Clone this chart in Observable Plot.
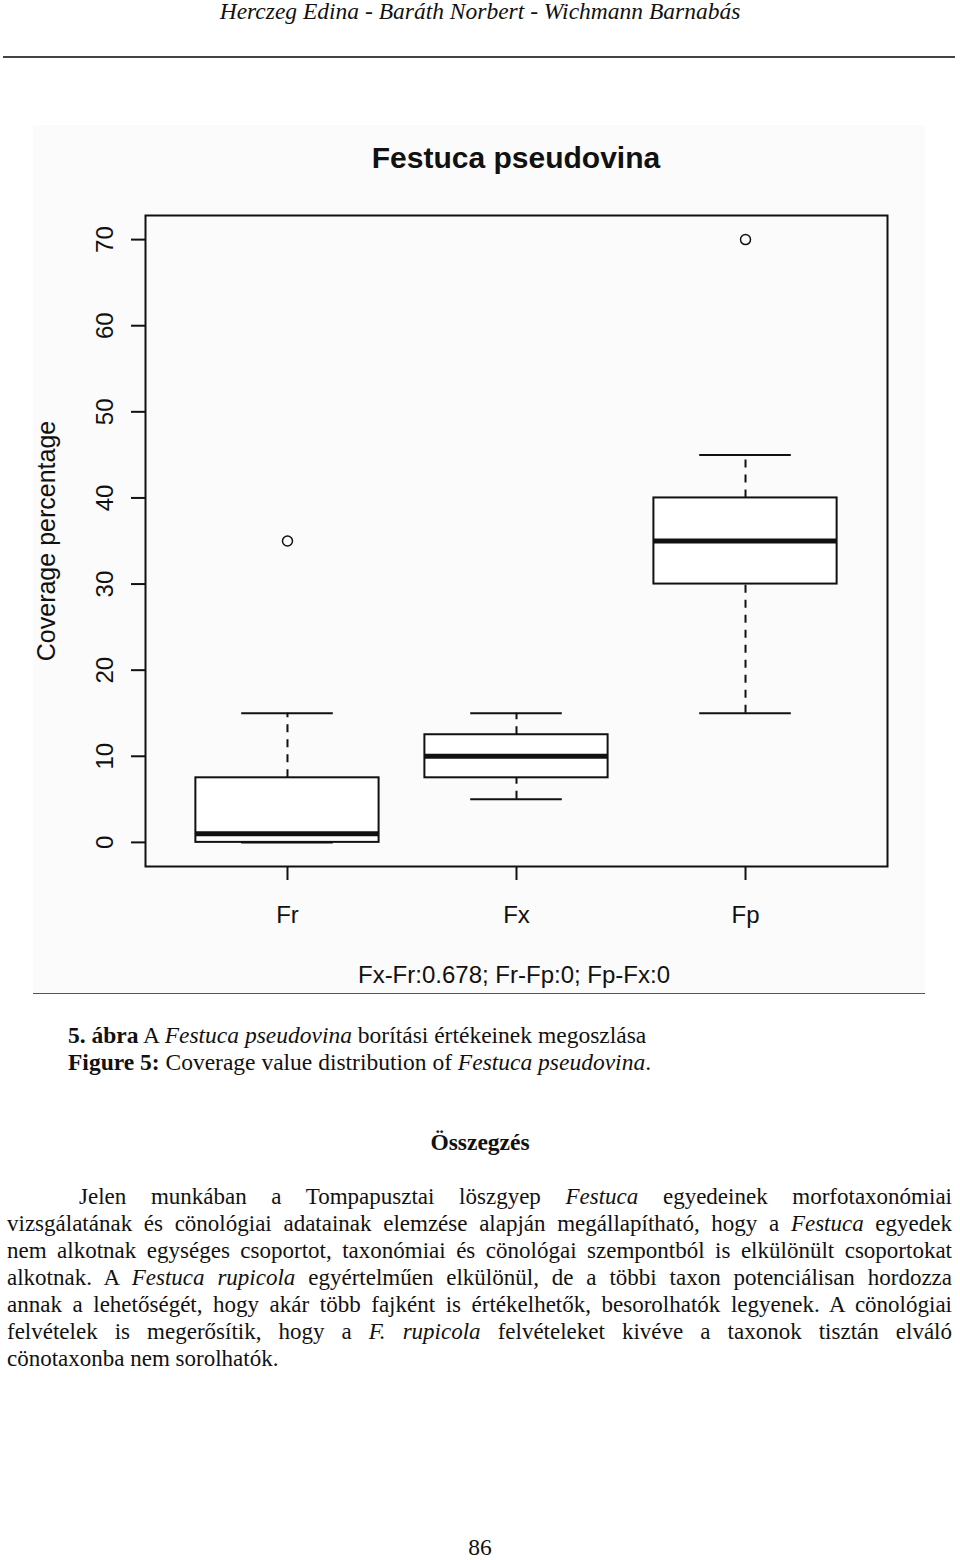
<!DOCTYPE html>
<html><head><meta charset="utf-8">
<script src="https://cdn.jsdelivr.net/npm/d3@7"></script>
<script src="https://cdn.jsdelivr.net/npm/@observablehq/plot@0.6"></script>
<style>
body{margin:0;width:960px;height:1560px;position:relative;background:#fff;font-family:"Liberation Serif","Times New Roman",serif;color:#111;overflow:hidden;}
.abs{position:absolute;white-space:nowrap;}
.sans{font-family:"Liberation Sans",Arial,sans-serif;}
.pl{position:absolute;left:7px;width:945px;font-size:23px;line-height:27px;text-align:justify;text-align-last:justify;white-space:nowrap;}
</style></head><body>
<div class="abs" style="top:-2px;left:0;width:960px;text-align:center;font-style:italic;font-size:23.5px;line-height:26px;">Herczeg Edina - Baráth Norbert - Wichmann Barnabás</div>
<div class="abs" style="top:56px;left:3px;width:952px;height:2px;background:#444"></div>
<div class="abs" style="top:125px;left:33px;width:892px;height:868px;background:#fbfbfb;border-bottom:1px solid #555"></div>
<div class="abs sans" style="left:316px;width:400px;top:140px;text-align:center;font-weight:bold;font-size:30px;line-height:36px;">Festuca pseudovina</div>
<div id="chart" class="abs" style="top:200px;left:0;"></div>
<div class="abs sans" style="left:264px;width:500px;top:961px;text-align:center;font-size:24px;line-height:28px;">Fx-Fr:0.678; Fr-Fp:0; Fp-Fx:0</div>

<div class="abs" style="left:68px;top:1022px;font-size:23.5px;line-height:27px;"><b>5. ábra</b> A <i>Festuca pseudovina</i> borítási értékeinek megoszlása</div>
<div class="abs" style="left:68px;top:1049px;font-size:23.5px;line-height:27px;"><b>Figure 5:</b> Coverage value distribution of <i>Festuca pseudovina</i>.</div>

<div class="abs" style="left:0;width:960px;top:1129px;text-align:center;font-weight:bold;font-size:23.5px;line-height:27px;">Összegzés</div>

<div class="pl" style="top:1183px;left:79px;width:873px;">Jelen munkában a Tompapusztai löszgyep <i>Festuca</i> egyedeinek morfotaxonómiai</div>
<div class="pl" style="top:1210px;">vizsgálatának és cönológiai adatainak elemzése alapján megállapítható, hogy a <i>Festuca</i> egyedek</div>
<div class="pl" style="top:1237px;">nem alkotnak egységes csoportot, taxonómiai és cönológai szempontból is elkülönült csoportokat</div>
<div class="pl" style="top:1264px;">alkotnak. A <i>Festuca rupicola</i> egyértelműen elkülönül, de a többi taxon potenciálisan hordozza</div>
<div class="pl" style="top:1291px;">annak a lehetőségét, hogy akár több fajként is értékelhetők, besorolhatók legyenek. A cönológiai</div>
<div class="pl" style="top:1318px;">felvételek is megerősítik, hogy a <i>F. rupicola</i> felvételeket kivéve a taxonok tisztán elváló</div>
<div class="pl" style="top:1345px;text-align:left;text-align-last:left;">cönotaxonba nem sorolhatók.</div>

<div class="abs" style="left:0;width:960px;top:1534px;text-align:center;font-size:23.5px;line-height:27px;">86</div>

<script>
const categories = ["Fr", "Fx", "Fp"];
const lowerWhisker = [0, 5, 15];
const q1 = [0, 7.5, 30];
const median = [1, 10, 35];
const q3 = [7.5, 12.5, 40];
const upperWhisker = [15, 15, 45];
const outlierGroup = ["Fr", "Fp"];
const outlierValue = [35, 70];
const yTicks = [0, 10, 20, 30, 40, 50, 60, 70];
const yLabel = "Coverage percentage";

const stats = categories.map((c, i) => ({
  group: c, pos: i + 1,
  lo: lowerWhisker[i], q1: q1[i], med: median[i], q3: q3[i], hi: upperWhisker[i]
}));
const outliers = outlierGroup.map((g, i) => ({pos: categories.indexOf(g) + 1, value: outlierValue[i]}));

const ink = "#111";
const chart = Plot.plot({
  width: 960,
  height: 745,
  marginLeft: 145,
  marginRight: 73,
  marginTop: 15,
  marginBottom: 79,
  style: {fontFamily: "Liberation Sans, Arial, sans-serif", background: "transparent", color: ink},
  x: {domain: [0.38, 3.62]},
  y: {domain: [-2.8, 72.8]},
  marks: [
    Plot.frame({stroke: ink, strokeWidth: 2}),
    Plot.axisY({ticks: yTicks, tickSize: 14, tickFormat: () => "", label: null, strokeWidth: 2, stroke: ink}),
    Plot.text(yTicks, {y: d => d, text: d => String(d), frameAnchor: "left", textAnchor: "middle", dx: -40, rotate: -90, fontSize: 24, fill: ink}),
    Plot.text([yLabel], {frameAnchor: "left", textAnchor: "middle", dx: -99, rotate: -90, fontSize: 25, fill: ink}),
    Plot.axisX({ticks: [1, 2, 3], tickFormat: d => categories[d - 1], tickSize: 14, tickPadding: 25, fontSize: 24, label: null, strokeWidth: 2, stroke: ink, fill: ink}),
    Plot.ruleX(stats, {x: "pos", y1: "q3", y2: "hi", stroke: ink, strokeWidth: 2, strokeDasharray: "8,7"}),
    Plot.ruleX(stats, {x: "pos", y1: "lo", y2: "q1", stroke: ink, strokeWidth: 2, strokeDasharray: "8,7"}),
    Plot.ruleY(stats, {y: "hi", x1: d => d.pos - 0.2, x2: d => d.pos + 0.2, stroke: ink, strokeWidth: 2}),
    Plot.ruleY(stats, {y: "lo", x1: d => d.pos - 0.2, x2: d => d.pos + 0.2, stroke: ink, strokeWidth: 2}),
    Plot.rect(stats, {x1: d => d.pos - 0.4, x2: d => d.pos + 0.4, y1: "q1", y2: "q3", fill: "white", stroke: ink, strokeWidth: 2}),
    Plot.ruleY(stats, {y: "med", x1: d => d.pos - 0.4, x2: d => d.pos + 0.4, stroke: ink, strokeWidth: 5}),
    Plot.dot(outliers, {x: "pos", y: "value", r: 5, stroke: ink, strokeWidth: 1.5, fill: "none"})
  ]
});
document.getElementById("chart").appendChild(chart);
</script>
</body></html>
